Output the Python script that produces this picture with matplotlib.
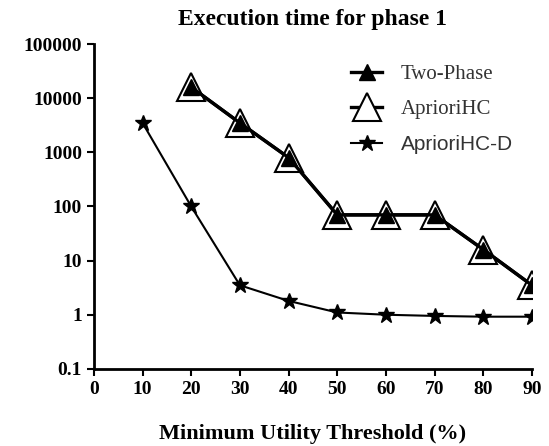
import matplotlib
matplotlib.use("Agg")
import matplotlib.pyplot as plt

thresholds = [10, 20, 30, 40, 50, 60, 70, 80, 90]
two_phase_x = [20, 30, 40, 50, 60, 70, 80, 90]
two_phase = [16000, 3500, 800, 70, 70, 70, 16, 3.5]
apriori_hc = [16000, 3500, 800, 70, 70, 70, 16, 3.5]
apriori_hc_d = [3500, 100, 3.5, 1.8, 1.1, 1.0, 0.95, 0.92, 0.92]
x_ticks = [0, 10, 20, 30, 40, 50, 60, 70, 80, 90]
y_ticks = [0.1, 1, 10, 100, 1000, 10000, 100000]
y_labels = ["0.1", "1", "10", "100", "1000", "10000", "100000"]

fig = plt.figure(figsize=(5.49, 4.46), dpi=100)
ax = fig.add_axes([0.171, 0.173, 0.798, 0.728])

ax.plot(two_phase_x, apriori_hc, color="black", lw=2.4, marker="^", ms=20,
        mfc="white", mec="black", mew=1.5, label="AprioriHC", zorder=3)
ax.plot(two_phase_x, two_phase, color="black", lw=2.4, marker="^", ms=12,
        mfc="black", mec="black", label="Two-Phase", zorder=4)
ax.plot(thresholds, apriori_hc_d, color="black", lw=1.5, marker="*", ms=12,
        mfc="black", mec="black", label="AprioriHC-D", zorder=3)

ax.set_yscale("log")
ax.set_xlim(0, 90)
ax.set_ylim(0.1, 100000)
ax.minorticks_off()
for s in ["top", "right"]:
    ax.spines[s].set_visible(False)
for s in ["left", "bottom"]:
    ax.spines[s].set_linewidth(2)
ax.tick_params(direction="out", width=1.5, length=5)

ax.set_xticks(x_ticks)
ax.set_xticklabels([str(v) for v in x_ticks], fontfamily="Liberation Serif",
                   fontweight="bold", fontsize=14)
ax.set_yticks(y_ticks)
ax.set_yticklabels(y_labels, fontfamily="Liberation Serif", fontweight="bold",
                   fontsize=14)

ax.set_title("Execution time for phase 1", fontfamily="Liberation Serif",
             fontweight="bold", fontsize=17, pad=14)
ax.set_xlabel("Minimum Utility Threshold (%)", fontfamily="Liberation Serif",
              fontweight="bold", fontsize=16, labelpad=19)

h, l = ax.get_legend_handles_labels()
leg = ax.legend([h[1], h[0], h[2]], [l[1], l[0], l[2]], loc="upper right",
                bbox_to_anchor=(1.0, 0.995), frameon=False, fontsize=15,
                handlelength=1.5, labelspacing=0.75, handletextpad=0.9)
fams = ["Liberation Serif", "Liberation Serif", "Liberation Sans"]
for t, f in zip(leg.get_texts(), fams):
    t.set_fontfamily(f)
    t.set_color("#333333")

fig.savefig("out.png", dpi=100)
